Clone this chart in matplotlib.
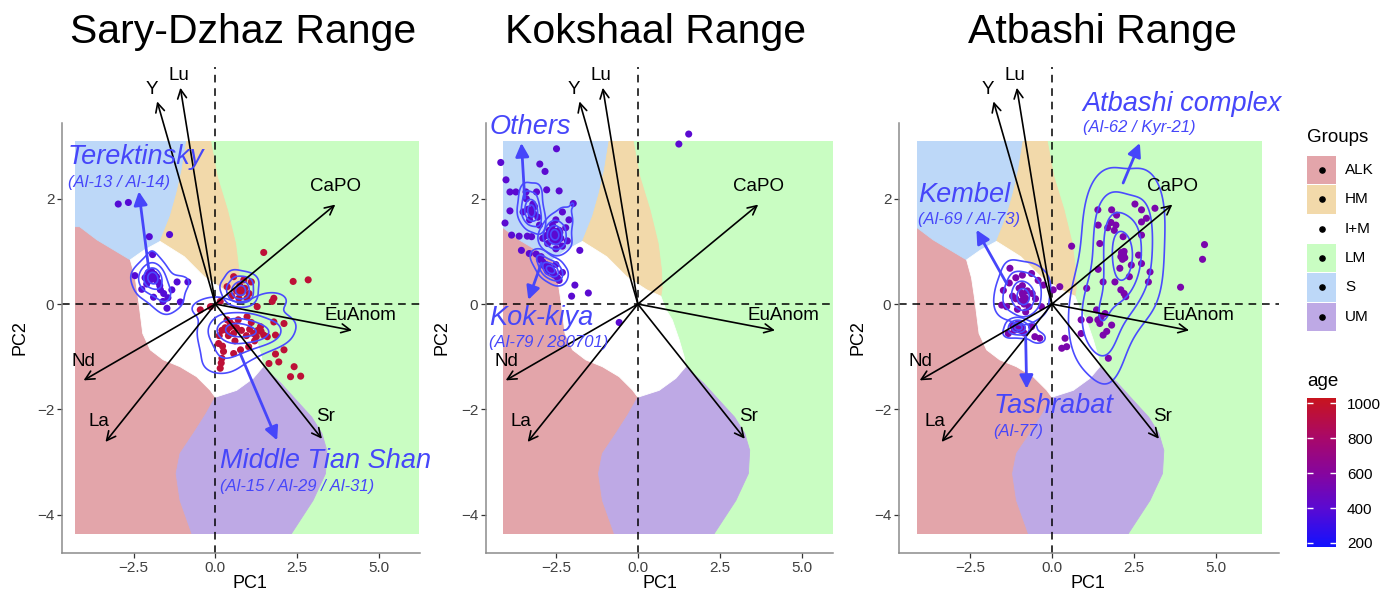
import numpy as np
import matplotlib
matplotlib.use('Agg')
import matplotlib.pyplot as plt
from matplotlib.colors import LinearSegmentedColormap, Normalize
from matplotlib.patches import Polygon, Rectangle
from matplotlib.cm import ScalarMappable

plt.rcParams['font.family'] = ['Liberation Sans', 'DejaVu Sans']

# ---------------- data ----------------
TITLES = ["Sary-Dzhaz Range", "Kokshaal Range", "Atbashi Range"]
GROUPS = ["ALK", "HM", "I+M", "LM", "S", "UM"]
GROUP_COLORS = ["#E3A5AA", "#F2D9AA", "#FFFFFF", "#C9FDC2", "#BDD8F8", "#BEA9E5"]
AGE_TICKS = [200, 400, 600, 800, 1000]
AGE_RANGE = (177, 1029)

# PCA loadings (arrow tips) and label positions
LOAD_NAMES = ["Y", "Lu", "CaPO", "EuAnom", "Nd", "La", "Sr"]
LOAD_X = [-1.78, -1.07, 3.67, 4.18, -4.03, -3.36, 3.26]
LOAD_Y = [3.85, 4.11, 1.89, -0.50, -1.45, -2.62, -2.56]
LABEL_X = [-1.94, -1.12, 3.68, 4.45, -4.02, -3.55, 3.37]
LABEL_Y = [4.07, 4.35, 2.23, -0.21, -1.10, -2.24, -2.14]

# classification regions (PC1, PC2 vertices)
REGION_S = [(-10, 1.50), (-4.15, 1.47), (-3.62, 1.22), (-3.11, 1.03), (-2.60, 0.84), (-2.19, 1.02),
            (-1.69, 1.19), (-1.38, 1.67), (-1.18, 2.11), (-1.02, 2.55), (-0.88, 3.09), (-0.88, 10), (-10, 10)]
REGION_HM = [(-0.88, 10), (-0.88, 3.09), (-1.02, 2.55), (-1.18, 2.11), (-1.38, 1.67), (-1.69, 1.19),
             (-0.95, 0.90), (-0.34, 0.52), (0.27, 0.27), (0.70, 0.15), (0.74, 0.30), (0.72, 0.65),
             (0.62, 1.15), (0.37, 1.79), (0.06, 2.42), (-0.14, 3.09), (-0.14, 10)]
REGION_ALK = [(-10, 1.50), (-4.15, 1.47), (-3.62, 1.22), (-3.11, 1.03), (-2.60, 0.84), (-2.45, 0.50),
              (-2.35, 0.08), (-2.22, -0.56), (-1.99, -0.87), (-1.59, -1.06), (-1.08, -1.19),
              (-0.57, -1.38), (-0.16, -1.635), (0.0, -1.77), (-0.30, -2.10), (-0.67, -2.46),
              (-1.08, -2.84), (-1.20, -3.22), (-1.08, -3.73), (-0.72, -4.36), (-0.60, -10), (-10, -10)]
REGION_UM = [(0.0, -1.77), (0.65, -1.64), (1.16, -1.41), (1.46, -1.19), (2.00, -1.50), (2.48, -1.83),
             (2.95, -2.15), (3.26, -2.46), (3.41, -2.78), (3.37, -3.22), (2.99, -3.73), (2.33, -4.36),
             (2.20, -10), (-0.60, -10), (-0.72, -4.36), (-1.08, -3.73), (-1.20, -3.22), (-1.08, -2.84),
             (-0.67, -2.46), (-0.30, -2.10)]
REGION_IM = [(-2.60, 0.84), (-2.19, 1.02), (-1.69, 1.19), (-0.95, 0.90), (-0.34, 0.52), (0.27, 0.27),
             (0.70, 0.15), (0.85, -0.10), (1.05, -0.30), (1.26, -0.68), (1.41, -1.00), (1.46, -1.19),
             (1.16, -1.41), (0.65, -1.64), (0.0, -1.77), (-0.16, -1.635), (-0.57, -1.38), (-1.08, -1.19),
             (-1.59, -1.06), (-1.99, -0.87), (-2.22, -0.56), (-2.35, 0.08), (-2.45, 0.50)]

# ---- Sary-Dzhaz ----
P1_TEREK_X = [-2.02, -1.40, -1.92, -2.46, -2.05, -1.95, -1.90, -1.85, -1.80, -2.00, -1.75,
              -1.70, -2.25, -1.89, -1.58, -1.17, -0.84, -1.07, -1.48, -1.33, -1.68, -1.60, -1.45, -2.10,
              -1.95, -1.88, -1.82, -2.15, -1.92, -1.86, -1.98]
P1_TEREK_Y = [1.28, 1.32, 0.94, 0.54, 0.60, 0.55, 0.50, 0.48, 0.52, 0.45, 0.42, 0.35, 0.28,
              0.13, 0.20, 0.42, 0.42, 0.04, -0.08, 0.27, 0.27, 0.05, 0.12, 0.38, 0.62, 0.57, 0.46, 0.50,
              0.53, 0.56, 0.49]
P1_TEREK_OUT_X = [-2.97, -2.66]
P1_TEREK_OUT_Y = [1.90, 1.93]
P1_TEREK_AGE = 385
P1_MTS_A_X = [0.56, 0.87, 1.03, 0.72, 0.36, 0.97, 0.75, 0.65, 0.90, 1.10, 0.50, 0.80, 0.70]
P1_MTS_A_Y = [0.52, 0.46, 0.20, 0.11, 0.33, 0.11, 0.35, 0.25, 0.30, 0.42, 0.15, 0.22, 0.28]
P1_MTS_B_X = [0.15, -0.15, -0.46, 1.28, 1.79, 1.74, 2.10, 1.79, 1.84, 1.59, 0.36, 0.97, 0.56, 1.17, 1.48,
              1.38, 0.56, 0.77, 1.02, 0.30, 0.45, 0.65, 0.80, 0.95, 1.20, 1.30, 0.60, 0.40, 0.20, 0.70,
              1.10, 1.25, 1.40, 1.05, 0.50, 0.35, 0.55, 0.42,
              0.10, 0.20, 0.15, 0.25, 0.12, 0.18, 0.22]
P1_MTS_B_Y = [0.05, -0.05, -0.11, -0.05, 0.11, 0.05, -0.37, -0.34, -0.59, -0.62, -0.30, -0.24, -0.56,
              -0.56, -0.59, -0.43, -0.94, -0.87, -0.81, -0.45, -0.35, -0.45, -0.50, -0.60, -0.70, -0.50,
              -0.70, -0.60, -0.50, -0.30, -0.35, -0.62, -0.52, -0.48, -0.42, -0.50, -0.40, -0.45,
              -0.75, -1.03, -1.22, -0.90, -0.60, -1.12, -0.80]
P1_MTS_OUT_X = [1.48, 2.38, 2.84, 2.10, 1.84, 1.64, 1.94, 2.41, 2.30, 2.61]
P1_MTS_OUT_Y = [0.98, 0.43, 0.46, -0.87, -0.95, -1.13, -1.10, -1.19, -1.38, -1.37]
P1_MTS_AGE = 950

# ---- Kokshaal ----
P2_OTH_A_X = [-3.41, -3.09, -3.20, -3.35, -3.25, -3.15, -3.30, -3.05, -3.40, -3.50, -3.00, -3.28, -3.18]
P2_OTH_A_Y = [2.13, 2.13, 1.90, 1.80, 1.70, 1.85, 1.60, 1.65, 2.00, 1.75, 1.50, 1.78, 1.72]
P2_OTH_B_X = [-2.78, -2.40, -1.97, -2.30, -2.50, -2.60, -2.70, -2.55, -2.45, -2.35, -2.60, -2.80, -2.20,
              -2.30, -2.50, -2.75, -2.90, -2.15, -2.40, -2.65, -1.77, -2.10, -2.52, -2.48, -2.58, -2.62,
              -2.44, -2.56, -2.38]
P2_OTH_B_Y = [2.17, 2.15, 1.91, 1.75, 1.60, 1.50, 1.40, 1.35, 1.30, 1.25, 1.20, 1.30, 1.45, 1.10, 1.05,
              1.15, 1.25, 1.20, 1.40, 1.30, 1.02, 1.60, 1.38, 1.28, 1.33, 1.42, 1.18, 1.24, 1.36]
P2_KOK_X = [-3.00, -2.90, -2.80, -2.70, -2.65, -2.60, -2.75, -2.55, -2.45, -2.85, -2.50, -2.40, -2.30,
            -2.95, -3.10, -2.68, -2.62, -2.72, -2.58]
P2_KOK_Y = [0.85, 0.80, 0.75, 0.70, 0.65, 0.60, 0.62, 0.55, 0.50, 0.72, 0.75, 0.45, 0.60, 0.90, 0.95,
            0.66, 0.63, 0.68, 0.61]
P2_SCAT_X = [-4.18, -4.02, -2.48, -2.99, -2.83, -3.90, -3.72, -3.90, -4.05, -3.85, -3.62, -3.37, -3.24,
             -3.55, -3.31, 0.23, 1.25, 1.55, -0.57, -1.92, -2.02, -1.51]
P2_SCAT_Y = [2.69, 2.36, 2.95, 2.66, 2.52, 2.13, 2.13, 1.77, 1.54, 1.31, 1.29, 1.29, 1.28, 1.02, 0.96,
             3.69, 3.04, 3.23, -0.35, 0.36, 0.15, 0.21]
P2_AGE = 400

# ---- Atbashi ----
P3_KEM_X = [-1.28, -0.62, -0.42, -0.26, -1.48, -1.53, -1.38, -0.32, -1.10, -0.90, -1.00, -0.90, -0.80,
            -0.85, -0.75, -0.95, -0.70, -1.20, -1.10, -0.60, -1.30, -0.50, -0.90, -1.05, -0.80, -0.88,
            -0.82]
P3_KEM_Y = [0.68, 0.58, 0.45, 0.36, 0.26, -0.02, -0.05, -0.05, 0.50, 0.55, 0.30, 0.20, 0.10, 0.00, 0.25,
            0.05, -0.05, 0.15, 0.10, 0.20, 0.40, 0.10, 0.35, -0.10, -0.15, 0.16, 0.12]
P3_TAS_X = [-1.33, -0.62, -1.20, -1.10, -1.00, -0.95, -1.05, -0.90, -0.85, -1.15, -0.37, -0.52, -1.02,
            -0.98]
P3_TAS_Y = [-0.56, -0.43, -0.40, -0.45, -0.42, -0.50, -0.38, -0.45, -0.55, -0.50, -0.65, -0.62, -0.44,
            -0.41]
P3_ATB_X = [1.40, 1.82, 1.97, 1.80, 1.95, 1.70, 1.90, 2.53, 2.73, 2.88, 2.73, 3.14, 1.41, 1.46, 2.17,
            2.73, 2.12, 2.17, 2.22, 2.15, 2.20, 2.10, 2.64, 2.73, 2.07, 2.42, 2.99, 2.36, 2.94, 1.56,
            1.92, 2.10, 2.20, 2.25, 1.41, 1.06, 1.36, 1.62, 0.89, 1.15, 1.46, 1.82, 1.67, 0.89, 1.56,
            1.72, 1.50, 1.40, 2.18, 2.14]
P3_ATB_Y = [1.79, 1.79, 1.69, 1.55, 1.50, 1.45, 1.40, 1.90, 1.79, 1.63, 1.56, 1.82, 1.50, 1.15, 1.28,
            1.31, 0.98, 0.93, 0.88, 0.85, 1.00, 0.90, 0.93, 0.77, 0.68, 0.74, 0.61, 0.52, 0.42, 0.42,
            0.42, 0.27, 0.20, 0.14, 0.66, 0.30, -0.11, -0.18, -0.30, -0.30, -0.37, -0.40, -0.52, -0.56,
            -0.59, -1.03, -0.25, -0.30, 0.95, 0.91]
P3_SCAT_X = [0.60, 0.40, 0.45, 0.30, 3.92, 4.65, 4.59, 0.24, 0.04]
P3_SCAT_Y = [1.10, -0.65, -0.81, -0.84, 0.32, 1.13, 0.85, 0.33, 0.27]
P3_AGE = 545

# annotations: (name, subtitle, text x, title baseline y, subtitle baseline y, arrow from, arrow to)
P1_NOTES = [("Terektinsky", "(Al-13 / Al-14)", -4.51, 2.66, 2.23, (-2.04, 0.68), (-2.34, 2.14)),
            ("Middle Tian Shan", "(Al-15 / Al-29 / Al-31)", 0.15, -3.12, -3.55, (0.76, -0.94), (1.89, -2.59))]
P2_NOTES = [("Others", None, -4.53, 3.23, None, (-3.45, 2.01), (-3.55, 3.06)),
            ("Kok-kiya", "(Al-79 / 280701)", -4.53, -0.40, -0.81, (-2.94, 0.78), (-3.34, 0.08))]
P3_NOTES = [("Kembel", "(Al-69 / Al-73)", -4.08, 1.94, 1.53, (-1.38, 0.39), (-2.30, 1.41)),
            ("Atbashi complex", "(Al-62 / Kyr-21)", 0.94, 3.66, 3.26, (2.17, 2.30), (2.68, 3.06)),
            ("Tashrabat", "(Al-77)", -1.79, -2.07, -2.51, (-0.80, -0.62), (-0.77, -1.61))]

# ---------------- layout ----------------
W, H = 1393, 598
fig = plt.figure(figsize=(W / 100, H / 100), dpi=100)

def px_axes(x0, x1, y0, y1, **kw):
    return fig.add_axes([x0 / W, 1 - y1 / H, (x1 - x0) / W, (y1 - y0) / H], **kw)

cmap = LinearSegmentedColormap.from_list(
    "age", [(0.0, "#1212FF"), (0.26, "#5A0AD2"), (0.49, "#85059F"), (0.73, "#A8086A"), (1.0, "#C8141E")])
norm = Normalize(*AGE_RANGE)

BLUE = "#4646FA"
CONTOUR = "#4B4BFF"
YLIM = (-4.73, 3.44)
REG_Y = (-4.36, 3.09)

PANELS = [
    dict(px=(62, 420), xlim=(-4.69, 6.26), reg=(-4.29, 6.23), title_x=243, xlab_x=250, ylab_x=20,
         notes=P1_NOTES,
         groups=[(P1_TEREK_X, P1_TEREK_Y, P1_TEREK_AGE, True),
                 (P1_TEREK_OUT_X, P1_TEREK_OUT_Y, P1_TEREK_AGE, False),
                 (P1_MTS_A_X, P1_MTS_A_Y, P1_MTS_AGE, True),
                 (P1_MTS_B_X, P1_MTS_B_Y, P1_MTS_AGE, True),
                 (P1_MTS_OUT_X, P1_MTS_OUT_Y, P1_MTS_AGE, False)]),
    dict(px=(486, 833), xlim=(-4.63, 5.95), reg=(-4.12, 5.95), title_x=656, xlab_x=660, ylab_x=442,
         notes=P2_NOTES,
         groups=[(P2_OTH_A_X, P2_OTH_A_Y, P2_AGE, True), (P2_OTH_B_X, P2_OTH_B_Y, P2_AGE, True),
                 (P2_KOK_X, P2_KOK_Y, P2_AGE, True), (P2_SCAT_X, P2_SCAT_Y, P2_AGE, False)]),
    dict(px=(899, 1279), xlim=(-4.66, 6.92), reg=(-4.12, 6.39), title_x=1103, xlab_x=1088, ylab_x=858,
         notes=P3_NOTES,
         groups=[(P3_KEM_X, P3_KEM_Y, P3_AGE, True), (P3_TAS_X, P3_TAS_Y, P3_AGE, True),
                 (P3_ATB_X, P3_ATB_Y, P3_AGE, True), (P3_SCAT_X, P3_SCAT_Y, P3_AGE, False)]),
]


def kde_grid(x, y, n=160, scale=1.5):
    x = np.asarray(x, float)
    y = np.asarray(y, float)

    def bw(v):
        sd = v.std(ddof=1)
        q = np.subtract(*np.percentile(v, [75, 25]))
        s = min(sd, q / 1.34) if q > 0 else sd
        return scale * 1.06 * s * len(v) ** (-0.2)

    hx, hy = bw(x), bw(y)
    gx = np.linspace(x.min() - 3 * hx, x.max() + 3 * hx, n)
    gy = np.linspace(y.min() - 3 * hy, y.max() + 3 * hy, n)
    X, Y = np.meshgrid(gx, gy)
    Z = np.zeros_like(X)
    for xi, yi in zip(x, y):
        Z += np.exp(-0.5 * ((X - xi) / hx) ** 2 - 0.5 * ((Y - yi) / hy) ** 2)
    return X, Y, Z / Z.max()


for i, P in enumerate(PANELS):
    x0, x1 = P["px"]
    ax = px_axes(x0, x1, 123, 553)
    ax.set_xlim(*P["xlim"])
    ax.set_ylim(*YLIM)

    # regions
    rx0, rx1 = P["reg"]
    rect = Rectangle((rx0, REG_Y[0]), rx1 - rx0, REG_Y[1] - REG_Y[0], facecolor=GROUP_COLORS[3],
                     edgecolor="none", zorder=0.5)
    ax.add_patch(rect)
    for verts, col in [(REGION_ALK, GROUP_COLORS[0]), (REGION_S, GROUP_COLORS[4]),
                       (REGION_HM, GROUP_COLORS[1]), (REGION_UM, GROUP_COLORS[5]),
                       (REGION_IM, GROUP_COLORS[2])]:
        pg = Polygon(verts, closed=True, facecolor=col, edgecolor=col, lw=0.6, zorder=0.6)
        ax.add_patch(pg)
        pg.set_clip_path(rect)

    # reference lines
    ax.axhline(0, color="black", lw=1.1, ls=(0, (5, 3.8)), zorder=1)
    ax.plot([0, 0], [YLIM[0], 4.5], color="black", lw=1.1, ls=(0, (5, 3.8)), zorder=1, clip_on=False)

    # points + density contours
    for gx, gy, age, dens in P["groups"]:
        ax.scatter(gx, gy, s=26, color=cmap(norm(age)), edgecolors="none", zorder=3)
        if dens:
            X, Y, Z = kde_grid(gx, gy)
            ax.contour(X, Y, Z, levels=[0.1, 0.32, 0.6, 0.85], colors=CONTOUR, linewidths=1.2, zorder=4)

    # loadings
    for name, lx, ly, tx, ty in zip(LOAD_NAMES, LOAD_X, LOAD_Y, LABEL_X, LABEL_Y):
        ax.annotate("", xy=(lx, ly), xytext=(0, 0), annotation_clip=False, zorder=5,
                    arrowprops=dict(arrowstyle="->", lw=1.2, color="black", mutation_scale=16,
                                    shrinkA=0, shrinkB=0))
        ax.text(tx, ty, name, fontsize=13.5, ha="center", va="center", color="black", zorder=7,
                clip_on=False)

    # blue annotations
    for name, sub, tx, ty, sy, a0, a1 in P["notes"]:
        ax.annotate("", xy=a1, xytext=a0, annotation_clip=False, zorder=6,
                    arrowprops=dict(arrowstyle="-|>", lw=2.0, color=BLUE, mutation_scale=20,
                                    shrinkA=0, shrinkB=0))
        ax.text(tx, ty, name, fontsize=19.5, style="italic", color=BLUE, ha="left", va="baseline",
                zorder=8, clip_on=False)
        if sub:
            ax.text(tx, sy, sub, fontsize=12, style="italic", color=BLUE, ha="left", va="baseline",
                    zorder=8, clip_on=False)

    # axes styling
    for s in ["top", "right"]:
        ax.spines[s].set_visible(False)
    for s in ["left", "bottom"]:
        ax.spines[s].set_color("#8C8C8C")
        ax.spines[s].set_linewidth(1.1)
    ax.set_xticks([-2.5, 0, 2.5, 5])
    ax.set_xticklabels(["\u22122.5", "0.0", "2.5", "5.0"])
    ax.set_yticks([-4, -2, 0, 2])
    ax.set_yticklabels(["\u22124", "\u22122", "0", "2"])
    ax.tick_params(length=3.5, width=0.9, color="#333333", labelsize=11, labelcolor="#404040", pad=2)
    ax.set_facecolor("none")

    fig.text(P["title_x"] / W, 1 - 32 / H, TITLES[i], fontsize=29.5, ha="center", va="center")
    fig.text(P["xlab_x"] / W, 1 - 584 / H, "PC1", fontsize=13, ha="center", va="center")
    fig.text(P["ylab_x"] / W, 1 - 338 / H, "PC2", fontsize=13, ha="center", va="center", rotation=90)

# ---------------- legends ----------------
ov = fig.add_axes([0, 0, 1, 1])
ov.set_xlim(0, W)
ov.set_ylim(H, 0)
ov.axis("off")
ov.text(1307, 138, "Groups", fontsize=13.5, ha="left", va="center")
for k, (g, c) in enumerate(zip(GROUPS, GROUP_COLORS)):
    top = 156 + k * 29.3
    ov.add_patch(Rectangle((1307, top), 29, 28.3, facecolor=c, edgecolor="none"))
    ov.scatter([1321.5], [top + 14.1], s=14, color="black", zorder=3)
    ov.text(1345, top + 14.1, g, fontsize=11, ha="left", va="center")
ov.text(1307, 382, "age", fontsize=13.5, ha="left", va="center")

cax = px_axes(1307, 1336, 398, 547)
cb = fig.colorbar(ScalarMappable(norm=norm, cmap=cmap), cax=cax)
cb.outline.set_visible(False)
cb.set_ticks(AGE_TICKS)
cax.tick_params(length=0, labelsize=11, pad=8)
for t in AGE_TICKS:
    cax.hlines(t, 0, 0.2, color="white", lw=1)
    cax.hlines(t, 0.8, 1, color="white", lw=1)

fig.savefig("out.png", dpi=100)
